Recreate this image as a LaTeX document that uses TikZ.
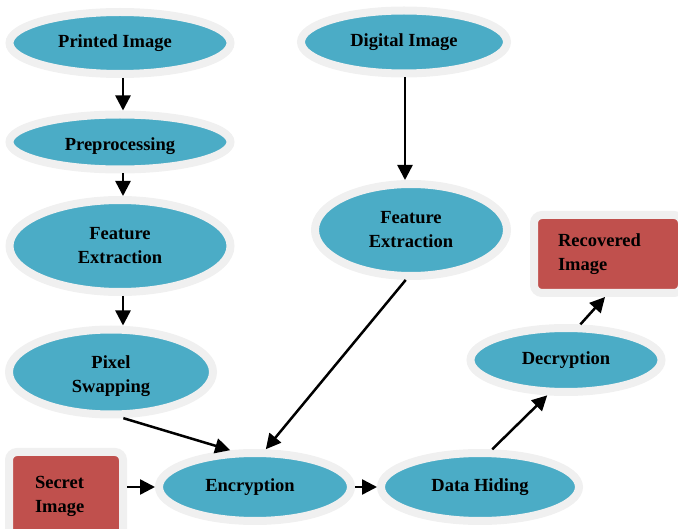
\documentclass[tikz,border=0pt]{standalone}
\usepackage{fontspec}
\setmainfont{Liberation Serif}
\usetikzlibrary{shapes.geometric,arrows.meta}
\definecolor{ringgray}{RGB}{240,240,240}
\definecolor{tealfill}{RGB}{75,172,198}
\definecolor{redfill}{RGB}{192,80,77}
\tikzset{
  blob/.style={ellipse,fill=tealfill,draw=ringgray,line width=8pt,inner sep=0pt,align=center,font=\bfseries\fontsize{18.5}{24}\selectfont},
  redbox/.style={rectangle,rounded corners=8pt,fill=redfill,draw=ringgray,line width=8pt,inner sep=0pt,align=left,font=\bfseries\fontsize{18.5}{24}\selectfont},
  arr/.style={line width=2.5pt,-{Triangle[length=15pt,width=15pt]}}
}
\begin{document}
\begin{tikzpicture}[x=1pt,y=-1pt]
                            \useasboundingbox (0,0) rectangle (678,529);
                            \node[blob,minimum width=221pt,minimum height=62pt] (print) at (120,43) {\hspace*{-10pt}Printed Image};
                            \node[blob,minimum width=221pt,minimum height=55pt] (prep) at (120,142) {\raisebox{-4pt}[\height][\depth]{Preprocessing}};
                            \node[blob,minimum width=221pt,minimum height=92pt] (featl) at (120,246) {Feature\\Extraction};
                            \node[blob,minimum width=204pt,minimum height=85pt] (pix) at (111,372) {\raisebox{-4pt}[\height][\depth]{\begin{tabular}{@{}c@{}}Pixel\\Swapping\end{tabular}}};
                            \node[blob,minimum width=206pt,minimum height=63pt] (digi) at (404,42) {Digital Image};
                            \node[blob,minimum width=192pt,minimum height=92pt] (featr) at (411,230) {Feature\\Extraction};
                            \node[blob,minimum width=192pt,minimum height=68pt] (enc) at (255,487) {\hspace*{-10pt}Encryption};
                            \node[blob,minimum width=198pt,minimum height=68pt] (hide) at (480,487) {Data Hiding};
                            \node[blob,minimum width=191pt,minimum height=64pt] (dec) at (566,360) {Decryption};
                            \node[redbox,minimum width=114pt,minimum height=88pt,text width=62pt] (sec) at (66,496) {Secret\\Image};
                            \node[redbox,minimum width=148pt,minimum height=78pt,text width=100pt] (rec) at (608,254) {Recovered\\Image};
                            \draw[arr] ([xshift=3pt]print.south) -- ([xshift=3pt]prep.north);
                            \draw[arr] ([xshift=3pt]prep.south) -- ([xshift=3pt]featl.north);
                            \draw[arr] ([xshift=3pt]featl.south) -- ([xshift=12pt]pix.north);
                            \draw[arr] ([xshift=1pt]digi.south) -- ([xshift=1pt]digi.south |- featr.north);
                            \draw[arr] (pix.-75) -- (enc.124);
                            \draw[arr] (featr.-96) -- (enc.74);
                            \draw[arr] (sec.east |- enc.west) -- (enc.west);
                            \draw[arr] (enc.east) -- (hide.west);
                            \draw[arr] (hide.72) -- (dec.-118);
                            \draw[arr] (dec.68) -- ([xshift=-3pt]rec.south);
                            \end{tikzpicture}
\end{document}
